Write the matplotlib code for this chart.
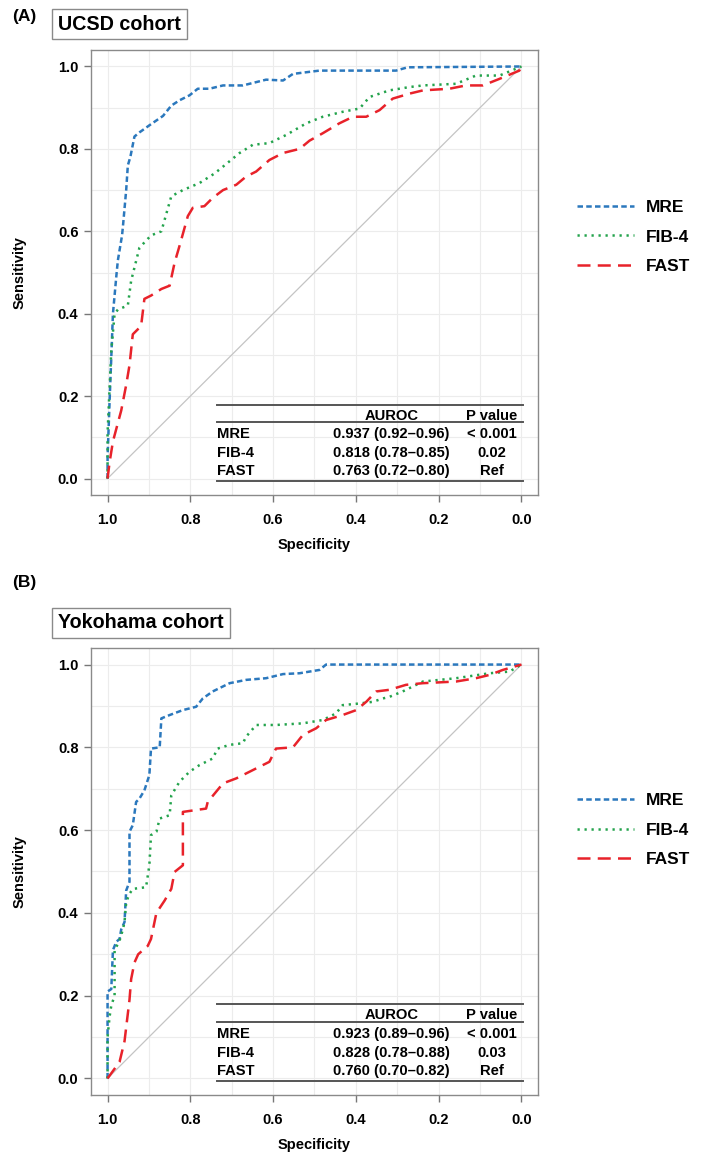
import matplotlib
matplotlib.use("Agg")
import matplotlib.pyplot as plt
import numpy as np

plt.rcParams['font.family'] = ['Liberation Sans', 'DejaVu Sans']

# ---- data (specificity, sensitivity) ----
# (A) UCSD cohort
mre_a_spec = [1.0, 1.0, 0.995, 0.99, 0.987, 0.978, 0.975, 0.965, 0.963, 0.955, 0.951, 0.945, 0.935, 0.923,
              0.895, 0.866, 0.846, 0.826, 0.802, 0.782, 0.754, 0.721, 0.673, 0.617, 0.576, 0.552, 0.488,
              0.303, 0.275, 0.0]
mre_a_sens = [0.0, 0.05, 0.19, 0.32, 0.40, 0.50, 0.53, 0.59, 0.61, 0.70, 0.76, 0.78, 0.83, 0.84,
              0.86, 0.88, 0.905, 0.918, 0.93, 0.946, 0.946, 0.954, 0.954, 0.968, 0.966, 0.982, 0.99,
              0.99, 0.998, 1.0]

fib_a_spec = [1.0, 1.0, 0.991, 0.983, 0.975, 0.951, 0.943, 0.923, 0.895, 0.870, 0.846, 0.818, 0.778,
              0.742, 0.721, 0.681, 0.649, 0.609, 0.568, 0.520, 0.480, 0.432, 0.391, 0.367, 0.319, 0.271,
              0.238, 0.158, 0.110, 0.053, 0.0]
fib_a_sens = [0.0, 0.11, 0.31, 0.40, 0.41, 0.42, 0.48, 0.56, 0.59, 0.60, 0.685, 0.70, 0.717,
              0.74, 0.757, 0.79, 0.81, 0.814, 0.834, 0.862, 0.878, 0.89, 0.898, 0.926, 0.942, 0.95,
              0.954, 0.958, 0.978, 0.978, 1.0]

fast_a_spec = [1.0, 0.995, 0.987, 0.979, 0.967, 0.955, 0.947, 0.939, 0.919, 0.911, 0.895, 0.870, 0.850,
               0.838, 0.826, 0.806, 0.794, 0.766, 0.746, 0.721, 0.689, 0.665, 0.641, 0.609, 0.576, 0.536,
               0.512, 0.480, 0.440, 0.407, 0.375, 0.343, 0.311, 0.271, 0.238, 0.174, 0.134, 0.093, 0.053,
               0.005, 0.0]
fast_a_sens = [0.0, 0.04, 0.09, 0.12, 0.165, 0.227, 0.275, 0.35, 0.37, 0.436, 0.444, 0.46, 0.468,
               0.524, 0.565, 0.637, 0.657, 0.661, 0.681, 0.70, 0.713, 0.733, 0.745, 0.773, 0.79, 0.80,
               0.82, 0.838, 0.862, 0.878, 0.878, 0.894, 0.922, 0.934, 0.942, 0.946, 0.954, 0.954, 0.97,
               0.99, 1.0]

# (B) Yokohama cohort
mre_b_spec = [1.0, 1.0, 0.991, 0.987, 0.979, 0.971, 0.967, 0.959, 0.955, 0.947, 0.947, 0.939, 0.931, 0.923,
              0.911, 0.899, 0.895, 0.874, 0.870, 0.850, 0.818, 0.786, 0.770, 0.746, 0.705, 0.665, 0.617,
              0.576, 0.536, 0.488, 0.472, 0.0]
mre_b_sens = [0.0, 0.21, 0.216, 0.31, 0.33, 0.337, 0.36, 0.378, 0.454, 0.475, 0.596, 0.612, 0.668, 0.676,
              0.696, 0.733, 0.797, 0.80, 0.87, 0.878, 0.89, 0.898, 0.918, 0.935, 0.955, 0.963, 0.967,
              0.977, 0.979, 0.987, 1.0, 1.0]

fib_b_spec = [1.0, 1.0, 0.995, 0.991, 0.983, 0.983, 0.971, 0.963, 0.959, 0.955, 0.947, 0.939, 0.907, 0.899,
              0.895, 0.882, 0.874, 0.850, 0.846, 0.826, 0.802, 0.778, 0.746, 0.734, 0.705, 0.673, 0.665,
              0.641, 0.593, 0.528, 0.480, 0.448, 0.432, 0.391, 0.359, 0.335, 0.319, 0.287, 0.238, 0.198,
              0.158, 0.077, 0.029, 0.0]
fib_b_sens = [0.0, 0.10, 0.15, 0.176, 0.20, 0.31, 0.333, 0.36, 0.378, 0.426, 0.446, 0.458, 0.462, 0.515,
              0.588, 0.596, 0.628, 0.636, 0.684, 0.717, 0.741, 0.757, 0.773, 0.797, 0.806, 0.81, 0.826,
              0.854, 0.854, 0.858, 0.866, 0.882, 0.902, 0.906, 0.91, 0.918, 0.922, 0.935, 0.959, 0.963,
              0.967, 0.979, 0.983, 1.0]

fast_b_spec = [1.0, 0.971, 0.959, 0.947, 0.943, 0.935, 0.926, 0.903, 0.895, 0.882, 0.862, 0.846,
               0.838, 0.818, 0.818, 0.762, 0.758, 0.721, 0.689, 0.657, 0.609, 0.593, 0.552, 0.528, 0.496,
               0.472, 0.432, 0.399, 0.375, 0.351, 0.319, 0.279, 0.238, 0.158, 0.110, 0.077, 0.045, 0.0]
fast_b_sens = [0.0, 0.04, 0.09, 0.19, 0.24, 0.28, 0.30, 0.32, 0.337, 0.40, 0.43, 0.458,
               0.499, 0.515, 0.644, 0.652, 0.668, 0.713, 0.725, 0.741, 0.765, 0.797, 0.80, 0.83, 0.846,
               0.866, 0.878, 0.89, 0.91, 0.935, 0.939, 0.951, 0.955, 0.959, 0.967, 0.975, 0.987, 1.0]

models = ['MRE', 'FIB-4', 'FAST']
auroc_a = ['0.937 (0.92\u20130.96)', '0.818 (0.78\u20130.85)', '0.763 (0.72\u20130.80)']
pval_a = ['< 0.001', '0.02', 'Ref']
auroc_b = ['0.923 (0.89\u20130.96)', '0.828 (0.78\u20130.88)', '0.760 (0.70\u20130.82)']
pval_b = ['< 0.001', '0.03', 'Ref']

ticks = [0.0, 0.2, 0.4, 0.6, 0.8, 1.0]

# ---- styles ----
colors = ['#2b78bd', '#23a34c', '#e8222a']
lw = 1.8
styles = [(0, (2.2, 1.3)), (0, (0.9, 1.9)), (0, (5.2, 2.9))]

fig = plt.figure(figsize=(7.05, 11.55), dpi=100)
W, H = 705, 1155


def draw_panel(rect, curves, auroc, pval, title, letter, title_y, letter_y, leg_y):
    ax = fig.add_axes(rect)
    ax.set_xlim(1.04, -0.04)
    ax.set_ylim(-0.04, 1.04)
    ax.set_xticks(np.arange(0, 1.01, 0.1), minor=True)
    ax.set_yticks(np.arange(0, 1.01, 0.1), minor=True)
    ax.grid(which='both', color='#ececec', lw=0.8)
    ax.set_axisbelow(True)
    ax.set_xticks(ticks)
    ax.set_yticks(ticks)
    ax.set_xticklabels(['%.1f' % t for t in ticks])
    ax.set_yticklabels(['%.1f' % t for t in ticks])
    ax.tick_params(which='major', length=5, width=1, color='#777777', labelsize=10.5, pad=4)
    ax.tick_params(axis='x', which='major', pad=8)
    ax.tick_params(which='minor', length=0)
    for lab in ax.get_xticklabels() + ax.get_yticklabels():
        lab.set_fontweight('bold')
    for s in ax.spines.values():
        s.set_color('#8a8a8a')
        s.set_linewidth(1.0)

    # chance line
    ax.plot([1, 0], [0, 1], color='#c4c4c4', lw=0.9, zorder=1)

    handles = []
    for (sp, se), name, c, ls in zip(curves, models, colors, styles):
        h, = ax.plot(sp, se, color=c, lw=lw, linestyle=ls, label=name, zorder=3)
        handles.append(h)

    ax.set_xlabel('Specificity', fontsize=10.5, fontweight='bold')
    ax.set_ylabel('Sensitivity', fontsize=10.5, fontweight='bold')
    ax.xaxis.set_label_coords(0.5, -0.112)
    ax.xaxis.label.set_va('center')
    ax.yaxis.set_label_coords(-0.16, 0.5)
    ax.yaxis.label.set_va('center')

    # table inside plot
    x0, x1 = 0.282, 0.966
    tr = ax.transAxes
    ax.plot([x0, x1], [0.203, 0.203], color='#555555', lw=1.4, transform=tr, zorder=4)
    ax.plot([x0, x1], [0.163, 0.163], color='#555555', lw=1.4, transform=tr, zorder=4)
    ax.plot([x0, x1], [0.031, 0.031], color='#555555', lw=1.4, transform=tr, zorder=4)
    fs = 10.6
    ax.text(0.672, 0.178, 'AUROC', transform=tr, ha='center', va='center', fontsize=fs, fontweight='bold')
    ax.text(0.897, 0.178, 'P value', transform=tr, ha='center', va='center', fontsize=fs, fontweight='bold')
    for i, (m, a, p) in enumerate(zip(models, auroc, pval)):
        yy = 0.136 - i * 0.041
        ax.text(x0, yy, m, transform=tr, ha='left', va='center', fontsize=fs, fontweight='bold')
        ax.text(0.672, yy, a, transform=tr, ha='center', va='center', fontsize=fs, fontweight='bold')
        ax.text(0.897, yy, p, transform=tr, ha='center', va='center', fontsize=fs, fontweight='bold')

    # legend to the right
    fig.legend(handles=handles, loc='center left', bbox_to_anchor=(577 / W, 1 - leg_y / H),
               frameon=False, handlelength=3.3, handletextpad=0.65, labelspacing=0.85,
               borderpad=0, borderaxespad=0,
               prop={'weight': 'bold', 'size': 12.5})

    fig.text(52 / W + 0.009, 1 - title_y / H, title, fontsize=14.2, fontweight='bold',
             ha='left', va='center',
             bbox=dict(boxstyle='square,pad=0.3', fc='white', ec='#8a8a8a', lw=1))
    fig.text(12 / W, 1 - letter_y / H, letter, fontsize=12.5, fontweight='bold', ha='left', va='center')
    return ax


draw_panel([91 / W, 1 - 495 / H, 447 / W, 445 / H],
           [(mre_a_spec, mre_a_sens), (fib_a_spec, fib_a_sens), (fast_a_spec, fast_a_sens)],
           auroc_a, pval_a, 'UCSD cohort', '(A)', 24, 17, 237)

draw_panel([91 / W, 1 - 1095 / H, 447 / W, 447 / H],
           [(mre_b_spec, mre_b_sens), (fib_b_spec, fib_b_sens), (fast_b_spec, fast_b_sens)],
           auroc_b, pval_b, 'Yokohama cohort', '(B)', 623, 583, 830)

fig.savefig('out.png', dpi=100)
